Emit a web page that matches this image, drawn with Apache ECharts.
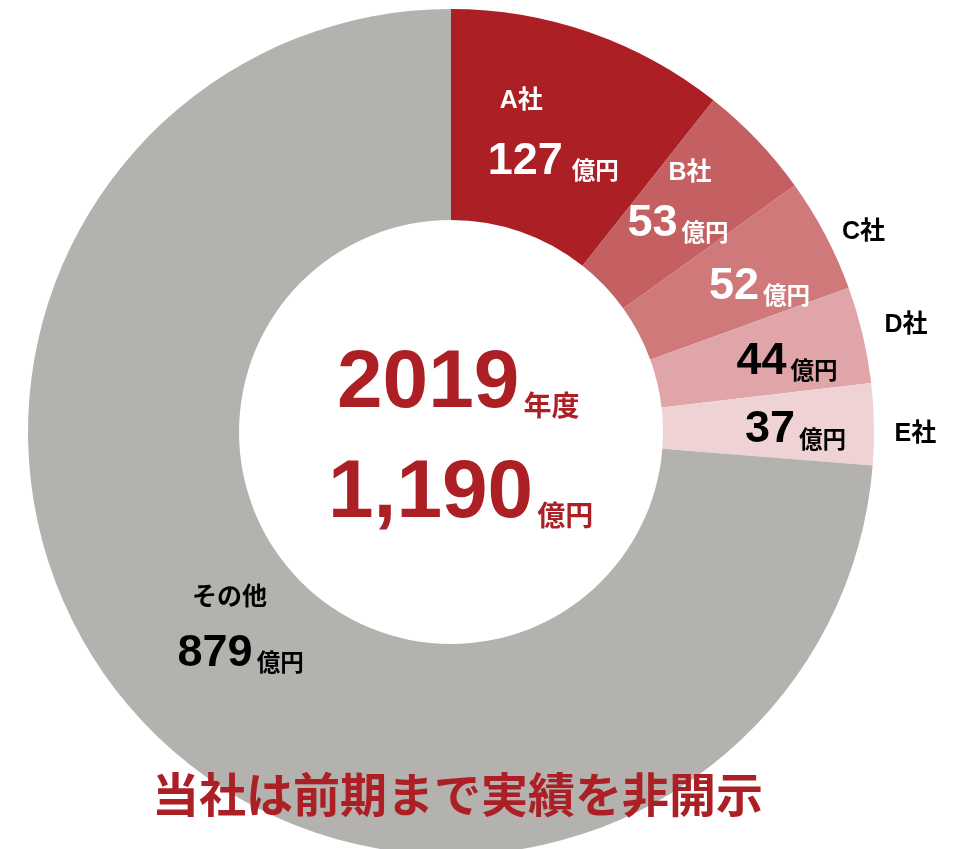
<!DOCTYPE html>
<html>
<head>
<meta charset="utf-8">
<script src="https://cdn.jsdelivr.net/npm/echarts@6/dist/echarts.min.js"></script>
<style>
html,body{margin:0;padding:0;background:#fff;}
#main{width:955px;height:849px;}
</style>
</head>
<body>
<div id="main"></div>
<script>
// ---- data ----
const categories = ['A社', 'B社', 'C社', 'D社', 'E社', 'その他'];
const values = [127, 53, 52, 44, 37, 879];
const unitLabel = '億円';
const yearLabel = '2019';
const yearUnit = '年度';
const totalLabel = '1,190';
const noteText = '当社は前期まで実績を非開示';

// ---- styles ----
const sliceColors = ['#AC1F25', '#C46062', '#CF797B', '#DFA5A8', '#EFD2D4', '#B3B2AF'];
const valueTextColors = ['#fff', '#fff', '#fff', '#000', '#000', '#000'];
const nameTextColors = ['#fff', '#fff', '#000', '#000', '#000', '#000'];
const valueOffsets = [[-3, 32], [-5, 13], [25, 4], [24, 3], [24, 4], [25, 4]];
const nameOffsets = [[-35, -28], [7, -38], [129, -50], [143, -33], [144, 8], [14, -51]];
const RED = '#AC1F25';
const FONT = '"Liberation Sans", Arial, "Noto Sans CJK JP", sans-serif';
const CJK = '"Noto Sans CJK JP", sans-serif';

const chart = echarts.init(document.getElementById('main'));

const center = [451, 432];
const radius = [212, 423];

const valueData = categories.map((c, i) => ({
  name: c, value: values[i],
  itemStyle: { color: sliceColors[i] },
  label: {
    formatter: '{n|' + values[i] + '}{u|' + unitLabel + '}',
    rich: {
      n: { fontSize: 45, fontWeight: 'bold', fontFamily: FONT, color: valueTextColors[i], lineHeight: 45, verticalAlign: 'bottom' },
      u: { fontSize: 23.5, fontWeight: 'bold', fontFamily: CJK, color: valueTextColors[i], lineHeight: 45, verticalAlign: 'bottom', padding: [0, 0, 2, i === 0 ? 9 : 4] }
    }
  }
}));

const nameData = categories.map((c, i) => ({
  name: c, value: values[i],
  itemStyle: { color: 'rgba(0,0,0,0)' },
  label: {
    formatter: c,
    color: nameTextColors[i],
    fontSize: 25, fontWeight: 'bold', fontFamily: FONT
  }
}));

const option = {
  animation: false,
  backgroundColor: '#fff',
  series: [
    {
      type: 'pie',
      center: center,
      radius: radius,
      startAngle: 90,
      clockwise: true,
      silent: true,
      label: { show: true, position: 'inside' },
      labelLine: { show: false },
      labelLayout: function (p) {
        const o = valueOffsets[p.dataIndex];
        return { dx: o[0], dy: o[1] };
      },
      data: valueData,
      z: 2
    },
    {
      type: 'pie',
      center: center,
      radius: radius,
      startAngle: 90,
      clockwise: true,
      silent: true,
      label: { show: true, position: 'inside' },
      labelLine: { show: false },
      labelLayout: function (p) {
        const o = nameOffsets[p.dataIndex];
        return { dx: o[0], dy: o[1] };
      },
      data: nameData,
      z: 3
    }
  ],
  graphic: [
    {
      type: 'text', left: 337, top: 343, z: 10,
      style: {
        text: '{n|' + yearLabel + '}{u|' + yearUnit + '}',
        rich: {
          n: { fontSize: 82, fontWeight: 'bold', fontFamily: FONT, fill: RED, lineHeight: 80, verticalAlign: 'bottom' },
          u: { fontSize: 28, fontWeight: 'bold', fontFamily: CJK, fill: RED, lineHeight: 80, verticalAlign: 'bottom', padding: [0, 0, 6, 4] }
        }
      }
    },
    {
      type: 'text', left: 328, top: 453, z: 10,
      style: {
        text: '{n|' + totalLabel + '}{u|' + unitLabel + '}',
        rich: {
          n: { fontSize: 82, fontWeight: 'bold', fontFamily: FONT, fill: RED, lineHeight: 80, verticalAlign: 'bottom' },
          u: { fontSize: 28, fontWeight: 'bold', fontFamily: CJK, fill: RED, lineHeight: 80, verticalAlign: 'bottom', padding: [0, 0, 6, 4] }
        }
      }
    },
    {
      type: 'text', left: 152, top: 771, z: 10,
      style: {
        text: noteText,
        fontSize: 47, fontWeight: 'bold', fontFamily: CJK, fill: RED
      }
    }
  ]
};
chart.setOption(option);
</script>
</body>
</html>
